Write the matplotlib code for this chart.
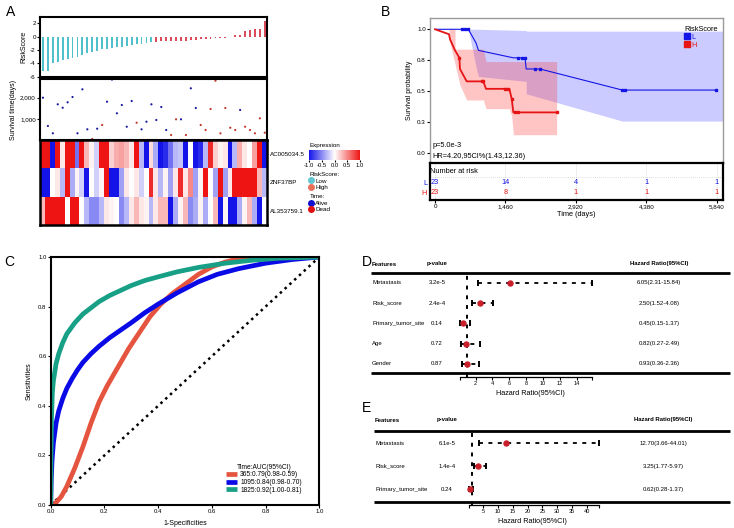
import numpy as np
import matplotlib
matplotlib.use("Agg")
import matplotlib.pyplot as plt
import matplotlib.transforms as mtransforms
from matplotlib.lines import Line2D
from matplotlib.colors import LinearSegmentedColormap
from matplotlib.ticker import FuncFormatter

plt.rcParams['font.family'] = ['Liberation Sans', 'DejaVu Sans']
plt.rcParams['axes.unicode_minus'] = False

# ---------------- A: risk score, survival status, expression ----------------
risk_low = [-5.15, -5.1, -3.9, -3.75, -3.5, -3.35, -3.2, -3.1, -2.75, -2.5, -2.35, -2.15,
            -1.9, -1.85, -1.65, -1.6, -1.5, -1.35, -1.2, -1.1, -1.05, -1.0, -0.85]
risk_high = [-0.75, -0.72, -0.7, -0.68, -0.65, -0.62, -0.58, -0.52, -0.45, -0.4, -0.35, -0.3,
             -0.25, -0.2, -0.15, -0.08, 0.2, 0.25, 0.8, 0.95, 1.1, 1.15, 2.35]
surv_days = [2000, 690, 352, 1694, 1537, 1787, 2032, 352, 2389, 537, 90, 565, 736, 1815,
             2840, 1278, 1662, 657, 1847, 843, 537, 889, 1694, 968, 1569, 505, 273, 1000,
             1000, 273, 2435, 1523, 736, 505, 1477, 2787, 352, 1523, 611, 505, 1431, 657,
             505, 352, 1046, 380]
status = ['Alive'] * 10 + ['Dead', 'Alive', 'Dead'] + ['Alive'] * 6 + ['Dead'] + ['Alive'] * 6 \
    + ['Dead', 'Dead', 'Alive', 'Dead', 'Alive', 'Alive'] + ['Dead'] * 8 + ['Alive'] + ['Dead'] * 5
genes = ['AC005034.5', 'ZNF37BP', 'AL353759.1']
expr_AC005034 = [1, 1, -1, 1, 0.1, 1, 1, -0.6, 1, 0.3, 0.05, -0.2, 1, 1, 0.2, 0.35, 0.4, 0.3,
                 0.1, 1, -0.3, -1, 0.15, -0.35, -1, -0.9, -0.6, -0.3, -0.25, -1, 0.0, -1, -0.9,
                 -0.3, 0.9, 0.2, 0.05, 0.1, -1, -0.3, 0.35, 0.1, 0.0, 0.4, 1, -1]
expr_ZNF37BP = [-1, -1, 0.0, 0.1, -0.3, 1, -0.35, 0.05, -0.2, -1, 0.0, -0.2, 0.05, 1, -1, -1,
                -0.4, 0.1, 0.0, 0.1, -0.2, 0.0, 0.9, 0.1, -0.3, 0.05, -0.4, 0.1, 0.9, 0.1, 0.5,
                -0.4, 0.05, 1, 0.0, -0.4, 1, -0.4, 0.1, 1, 1, 1, 1, 1, 0.3, -0.3]
expr_AL353759 = [0.3, 1, 1, 1, 1, 0.0, 1, 1, 0.0, -0.3, -0.5, -0.5, -0.3, 0.1, 0.05, 0.0, -0.5,
                 -0.3, 0.1, 0.3, 0.1, 0.05, -0.3, 0.1, 0.3, 0.3, -1, -0.35, 0.05, 0.3, -0.5,
                 -0.35, 0.05, -0.35, 0.0, 0.3, -1, 0.05, -1, -1, -0.35, 0.05, 0.3, -0.35, -1, 0.0]

# ---------------- B: Kaplan-Meier ----------------
km_L_t = [0, 691, 850, 900, 1624, 1866, 1890, 2177, 3884, 5819]
km_L_s = [1.0, 1.0, 0.89, 0.83, 0.77, 0.77, 0.68, 0.68, 0.51, 0.51]
cens_L_t = [553, 622, 691, 1728, 1797, 1866, 2073, 2177, 3884, 3940, 5819]
cens_L_s = [1.0, 1.0, 1.0, 0.77, 0.77, 0.77, 0.68, 0.68, 0.51, 0.51, 0.51]
band_L_t = [691, 850, 900, 1890, 1890, 3884, 5990]
band_L_lo = [1.0, 0.70, 0.62, 0.58, 0.48, 0.26, 0.26]
band_L_hi = [1.0, 1.0, 1.0, 0.99, 0.985, 0.985, 0.985]

km_H_t = [0, 290, 311, 415, 505, 518, 657, 1002, 1057, 1541, 1590, 1624, 2522]
km_H_s = [1.0, 0.96, 0.92, 0.83, 0.77, 0.68, 0.58, 0.58, 0.52, 0.52, 0.44, 0.33, 0.33]
cens_H_t = [505, 968, 1002, 1451, 1520, 1590, 1650, 1728, 2522]
cens_H_s = [0.77, 0.58, 0.58, 0.52, 0.52, 0.44, 0.33, 0.33, 0.33]
band_H_t = [290, 415, 415, 518, 657, 1002, 1057, 1541, 1590, 1624, 2522]
band_H_hi = [1.0, 1.0, 0.84, 0.84, 0.84, 0.84, 0.74, 0.74, 0.74, 0.74, 0.74]
band_H_lo = [0.92, 0.72, 0.72, 0.55, 0.43, 0.43, 0.36, 0.36, 0.30, 0.15, 0.15]

risk_times = [0, 1460, 2920, 4380, 5840]
n_risk_L = [23, 14, 4, 1, 1]
n_risk_H = [23, 8, 1, 1, 1]

# ---------------- C: time-dependent ROC ----------------
roc_365_fpr = [0, 0.02, 0.04, 0.06, 0.09, 0.12, 0.15, 0.18, 0.21, 0.25, 0.29, 0.33, 0.37,
               0.41, 0.45, 0.5, 0.55, 0.6, 0.65, 0.7, 0.8, 1.0]
roc_365_tpr = [0, 0.01, 0.035, 0.075, 0.15, 0.235, 0.33, 0.415, 0.48, 0.555, 0.63, 0.695,
               0.76, 0.81, 0.85, 0.89, 0.93, 0.96, 0.98, 0.993, 1.0, 1.0]
roc_1095_fpr = [0, 0.002, 0.005, 0.01, 0.02, 0.03, 0.045, 0.06, 0.08, 0.1, 0.12, 0.15, 0.18,
                0.22, 0.26, 0.3, 0.35, 0.4, 0.47, 0.55, 0.62, 0.7, 0.8, 0.9, 1.0]
roc_1095_tpr = [0, 0.1, 0.18, 0.25, 0.33, 0.38, 0.43, 0.47, 0.51, 0.545, 0.575, 0.61, 0.64,
                0.675, 0.705, 0.735, 0.775, 0.81, 0.855, 0.9, 0.93, 0.953, 0.975, 0.99, 1.0]
roc_1825_fpr = [0, 0.001, 0.003, 0.006, 0.01, 0.02, 0.03, 0.045, 0.06, 0.09, 0.12, 0.15, 0.18,
                0.22, 0.26, 0.3, 0.35, 0.4, 0.47, 0.55, 0.65, 0.75, 0.85, 1.0]
roc_1825_tpr = [0, 0.2, 0.35, 0.45, 0.5, 0.57, 0.61, 0.655, 0.69, 0.735, 0.77, 0.795, 0.82,
                0.845, 0.865, 0.885, 0.905, 0.92, 0.94, 0.958, 0.975, 0.987, 0.995, 1.0]
roc_labels = ['365:0.79(0.98-0.59)', '1095:0.84(0.98-0.70)', '1825:0.92(1.00-0.81)']

# ---------------- D / E: Cox forest plots ----------------
uni_feats = ['Metastasis', 'Risk_score', 'Primary_tumor_site', 'Age', 'Gender']
uni_p = ['3.2e-5', '2.4e-4', '0.14', '0.72', '0.87']
uni_hr = [6.05, 2.50, 0.45, 0.82, 0.93]
uni_lo = [2.31, 1.52, 0.15, 0.27, 0.36]
uni_hi = [15.84, 4.08, 1.37, 2.49, 2.36]
uni_ticks = [2, 4, 6, 8, 10, 12, 14]

multi_feats = ['Metastasis', 'Risk_score', 'Primary_tumor_site']
multi_p = ['6.1e-5', '1.4e-4', '0.24']
multi_hr = [12.70, 3.25, 0.62]
multi_lo = [3.66, 1.77, 0.28]
multi_hi = [44.01, 5.97, 1.37]
multi_ticks = [5, 10, 15, 20, 25, 30, 35, 40]

# ---------------- figure ----------------
W, H = 734, 528
fig = plt.figure(figsize=(W / 100, H / 100), dpi=100)


def px_axes(x0, y0, x1, y1):
    return fig.add_axes([x0 / W, 1 - y1 / H, (x1 - x0) / W, (y1 - y0) / H])


def hline_px(x0, x1, y, lw=2.0):
    fig.add_artist(Line2D([x0 / W, x1 / W], [1 - y / H, 1 - y / H], transform=fig.transFigure,
                          color='k', lw=lw, solid_capstyle='butt'))


def thick(ax, lw=1.5):
    for s in ax.spines.values():
        s.set_linewidth(lw)


for lab, x, y in [('A', 6, 12), ('B', 381, 12), ('C', 4, 262), ('D', 362, 262), ('E', 362, 408)]:
    fig.text(x / W, 1 - y / H, lab, fontsize=10, va='center', ha='left')

# ---- A ----
n = len(risk_low) + len(risk_high)
idx = np.arange(n)
risk = risk_low + risk_high
bar_cols = ['#4FC0CC'] * len(risk_low) + ['#DB4B5A'] * len(risk_high)

axr = px_axes(40, 17, 267, 77)
axr.bar(idx, risk, width=0.38, color=bar_cols)
axr.set_xlim(-0.6, n - 0.55)
axr.set_ylim(-6.05, 2.95)
axr.set_yticks([-6, -4, -2, 0, 2])
axr.set_xticks([])
axr.tick_params(labelsize=4.5, length=2, pad=1)
axr.set_ylabel('RiskScore', fontsize=5, labelpad=2)
thick(axr)

axs = px_axes(40, 79, 267, 140)
dot_cols = ['#1C1C9E' if s == 'Alive' else '#C0392B' for s in status]
axs.scatter(idx, surv_days, c=dot_cols, s=2.5, linewidths=0)
axs.set_xlim(-0.6, n - 0.55)
axs.set_ylim(42, 2866)
axs.set_yticks([1000, 2000])
axs.yaxis.set_major_formatter(FuncFormatter(lambda v, p: f'{v:,.0f}'))
axs.set_xticks([])
axs.tick_params(labelsize=4.5, length=2, pad=1)
axs.set_ylabel('Survival time(days)', fontsize=5, labelpad=2)
thick(axs)

cmap = LinearSegmentedColormap.from_list('bwr2', ['#1414E8', '#FFFFFF', '#EE1414'])
axh = px_axes(40, 140, 267, 225)
expr = np.array([expr_AC005034, expr_ZNF37BP, expr_AL353759])
im = axh.imshow(expr, aspect='auto', cmap=cmap, vmin=-1, vmax=1, interpolation='nearest')
axh.set_xticks([])
axh.yaxis.tick_right()
axh.set_yticks(range(len(genes)))
axh.set_yticklabels(genes)
axh.tick_params(axis='y', labelsize=4.5, length=0, pad=2)
thick(axh, 1.8)

cax = px_axes(309, 150, 360, 160)
cb = fig.colorbar(im, cax=cax, orientation='horizontal')
cb.outline.set_visible(False)
cb.set_ticks([-1, -0.5, 0, 0.5, 1])
cb.set_ticklabels(['-1.0', '-0.5', '0.0', '0.5', '1.0'])
cax.tick_params(labelsize=4.2, length=1.5, pad=1)
fig.text(309 / W, 1 - 146 / H, 'Expression', fontsize=4.5, va='center')

h_risk = [Line2D([], [], marker='o', ls='', color=c, ms=4) for c in ['#5FC6D2', '#E8705A']]
h_time = [Line2D([], [], marker='o', ls='', color=c, ms=4) for c in ['#1010D0', '#E01010']]
for hh, labs, title, ytop in [(h_risk, ['Low', 'High'], 'RiskScore:', 168),
                              (h_time, ['Alive', 'Dead'], 'Time:', 190)]:
    lg = fig.legend(hh, labs, title=title, loc='upper left',
                    bbox_to_anchor=(305 / W, 1 - ytop / H), frameon=False, fontsize=4.5,
                    title_fontsize=4.5, handlelength=0.6, handletextpad=0.3, labelspacing=0.15,
                    borderpad=0.2)
    lg._legend_box.align = 'left'

# ---- B ----
blue, red = '#1414E6', '#E61414'
axk = px_axes(430, 18, 723, 163)
axk.fill_between(band_L_t, band_L_lo, band_L_hi, color='#3030FF', alpha=0.25, lw=0)
axk.fill_between(band_H_t, band_H_lo, band_H_hi, color='#FF3030', alpha=0.28, lw=0)
axk.plot(km_L_t, km_L_s, color=blue, lw=0.8)
axk.plot(km_H_t, km_H_s, color=red, lw=1.3)
axk.plot(cens_L_t, cens_L_s, 's', color=blue, ms=2)
axk.plot(cens_H_t, cens_H_s, 's', color=red, ms=2)
axk.set_xlim(-104, 5971)
axk.set_ylim(-0.078, 1.091)
axk.set_xticks([])
axk.set_yticks([0, 0.25, 0.5, 0.75, 1.0])
axk.set_yticklabels(['0.0', '0.3', '0.5', '0.8', '1.0'])
axk.tick_params(labelsize=4.5, length=2, pad=1)
axk.set_ylabel('Survival probability', fontsize=5, labelpad=3)
for s in axk.spines.values():
    s.set_color('#9A9A9A')
    s.set_linewidth(1)
axk.text(0.007, 0.124, 'p=5.0e-3', transform=axk.transAxes, fontsize=5.3, va='center')
axk.text(0.007, 0.048, 'HR=4.20,95CI%(1.43,12.36)', transform=axk.transAxes, fontsize=5.3,
         va='center')
lg = axk.legend([Line2D([], [], marker='s', ls='', color=blue, ms=4),
                 Line2D([], [], marker='s', ls='', color=red, ms=4)], ['L', 'H'],
                title='RiskScore', loc='upper right', bbox_to_anchor=(1.0, 0.98), frameon=False,
                fontsize=5.3, title_fontsize=5.3, handlelength=0.6, handletextpad=0.4,
                labelspacing=0.1, labelcolor=[blue, red], borderpad=0.2)
lg._legend_box.align = 'left'

axt = px_axes(430, 163, 723, 200)
axt.set_xlim(-104, 5971)
axt.set_ylim(0, 1)
for t in risk_times:
    axt.axvline(t, color='#BBBBBB', lw=0.5, ls=(0, (1, 2)))
axt.axhline(0.62, color='#BBBBBB', lw=0.5, ls=(0, (1, 2)))
for t, a, b in zip(risk_times, n_risk_L, n_risk_H):
    axt.text(t, 0.46, str(a), color=blue, fontsize=5.3, ha='center', va='center')
    axt.text(t, 0.19, str(b), color=red, fontsize=5.3, ha='center', va='center')
axt.text(-104, 0.78, 'Number at risk', fontsize=5.3, va='center')
axt.set_yticks([0.46, 0.19])
axt.set_yticklabels(['L', 'H'])
for tl, c in zip(axt.get_yticklabels(), [blue, red]):
    tl.set_color(c)
axt.set_xticks(risk_times)
axt.xaxis.set_major_formatter(FuncFormatter(lambda v, p: f'{v:,.0f}'))
axt.tick_params(labelsize=4.5, length=2, pad=1)
axt.tick_params(axis='y', length=0, labelsize=5.3, pad=2)
axt.set_xlabel('Time (days)', fontsize=5.3, labelpad=1)
thick(axt, 1.6)

# ---- C ----
axc = px_axes(50.7, 257, 319.3, 505)
axc.plot([0, 1], [0, 1], color='k', lw=1.8, ls=(0, (1, 1.6)))
axc.plot(roc_365_fpr, roc_365_tpr, color='#E5543F', lw=3.4, label=roc_labels[0],
         solid_capstyle='butt')
axc.plot(roc_1095_fpr, roc_1095_tpr, color='#0A0AE6', lw=3.4, label=roc_labels[1],
         solid_capstyle='butt')
axc.plot(roc_1825_fpr, roc_1825_tpr, color='#17A086', lw=3.4, label=roc_labels[2],
         solid_capstyle='butt')
axc.set_xlim(0, 1)
axc.set_ylim(0, 1)
axc.set_xticks(np.arange(0, 1.01, 0.2))
axc.set_yticks(np.arange(0, 1.01, 0.2))
axc.xaxis.set_major_formatter(FuncFormatter(lambda v, p: f'{v:.1f}'))
axc.yaxis.set_major_formatter(FuncFormatter(lambda v, p: f'{v:.1f}'))
axc.tick_params(labelsize=4.3, length=2, pad=1)
axc.set_xlabel('1-Specificities', fontsize=5, labelpad=4)
axc.set_ylabel('Sensitivities', fontsize=5, labelpad=4)
thick(axc, 1.5)
lg = axc.legend(title='Time:AUC(95%CI)', loc='lower right', bbox_to_anchor=(0.95, 0.03),
                frameon=False, fontsize=4.8, title_fontsize=4.8, handlelength=1.7,
                handletextpad=0.5, labelspacing=0.1, borderpad=0.1)


# ---- D / E ----
def forest(feats, pvals, hr, lo, hi, ticks, lay):
    x0, x1 = lay['ax_x']
    top, axis_y = lay['top_line'], lay['axis_y']
    r0, dr = lay['row0'], lay['row_dy']
    z, ppu = lay['zero'], lay['ppu']
    ax = px_axes(x0, top, x1, axis_y)
    ax.set_xlim((x0 - z) / ppu, (x1 - z) / ppu)
    ax.set_ylim((axis_y - r0) / dr, (top - r0) / dr)
    ax.patch.set_alpha(0)
    rows = np.arange(len(feats))
    ax.axvline(1, color='k', lw=1.4, ls=(0, (2, 3)))
    ax.hlines(rows, lo, hi, color='k', lw=1.3, linestyles=(0, (2.2, 3)))
    ax.plot(lo, rows, '|', color='k', ms=4, mew=1.4)
    ax.plot(hi, rows, '|', color='k', ms=4, mew=1.4)
    ax.plot(hr, rows, 'o', color='#C8202A', ms=3.6)
    for s in ['top', 'left', 'right']:
        ax.spines[s].set_visible(False)
    ax.spines['bottom'].set_bounds(min(lo), max(hi))
    ax.spines['bottom'].set_linewidth(0.9)
    ax.set_yticks([])
    ax.set_xticks([min(lo)] + ticks + [max(hi)])
    ax.set_xticklabels([''] + [str(t) for t in ticks] + [''])
    ax.tick_params(axis='x', labelsize=4, length=2, pad=1.5)
    ax.set_xlabel('Hazard Ratio(95%CI)', fontsize=5.2, labelpad=lay['xpad'])
    tr = mtransforms.blended_transform_factory(fig.transFigure, ax.transData)
    for i in rows:
        ax.text(lay['feat_x'] / W, i, feats[i], transform=tr, fontsize=4.3, va='center')
        ax.text(lay['p_x'] / W, i, pvals[i], transform=tr, fontsize=4.3, va='center',
                ha='center')
        ax.text(lay['hr_x'] / W, i, f'{hr[i]:.2f}({lo[i]:.2f}-{hi[i]:.2f})', transform=tr,
                fontsize=4.3, va='center', ha='center')
    hy = 1 - lay['head_y'] / H
    fig.text(lay['feat_x'] / W, hy, 'Features', fontsize=4.3, weight='bold', va='center')
    fig.text(lay['p_x'] / W, hy, 'p-value', fontsize=4.3, weight='bold', va='center',
             ha='center')
    fig.text(lay['hr_x'] / W, hy, 'Hazard Ratio(95%CI)', fontsize=4.3, weight='bold',
             va='center', ha='center')
    hline_px(lay['line_x'], 730, top)
    hline_px(lay['line_x'], 730, lay['bot_line'])
    return ax


forest(uni_feats, uni_p, uni_hr, uni_lo, uni_hi, uni_ticks,
       dict(ax_x=(440, 620), top_line=272.7, bot_line=373, axis_y=376.5, row0=283,
            row_dy=20.25, zero=458.8, ppu=8.42, feat_x=372, p_x=437, hr_x=659, head_y=264,
            line_x=371, xpad=2.5))
forest(multi_feats, multi_p, multi_hr, multi_lo, multi_hi, multi_ticks,
       dict(ax_x=(445, 619), top_line=430.7, bot_line=501.7, axis_y=504.5, row0=443.3,
            row_dy=23, zero=468.6, ppu=2.952, feat_x=375, p_x=447, hr_x=663, head_y=420,
            line_x=374, xpad=2.5))

fig.savefig('out.png', dpi=100)
